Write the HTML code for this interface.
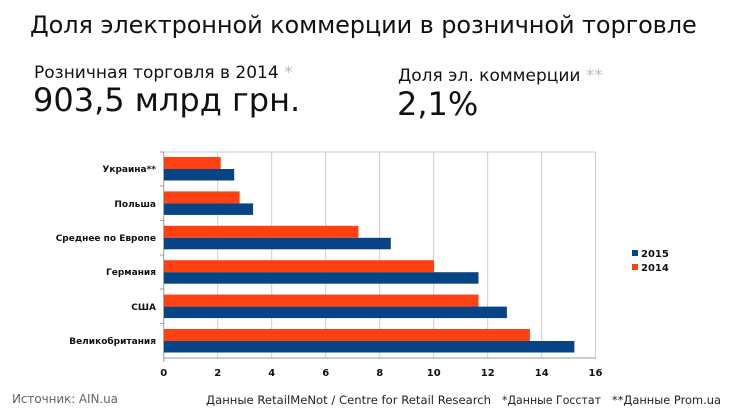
<!DOCTYPE html>
<html><head><meta charset="utf-8"><style>
body{margin:0;width:730px;height:411px;background:#fff;overflow:hidden;font-family:"DejaVu Sans","Liberation Sans",sans-serif;}
.t{position:absolute;white-space:nowrap;color:#111;}
</style></head><body>
<div class="t" style="left:30px;top:11px;font-size:24px;letter-spacing:-0.1px;">Доля электронной коммерции в розничной торговле</div>
<div class="t" style="left:34px;top:63px;font-size:17px;">Розничная торговля в 2014 <span style="color:#bbb">*</span></div>
<div class="t" style="left:33px;top:81px;font-size:32px;">903,5 млрд грн.</div>
<div class="t" style="left:398px;top:66px;font-size:17px;">Доля эл. коммерции <span style="color:#bbb">**</span></div>
<div class="t" style="left:397px;top:85px;font-size:32px;">2,1%</div>
<svg width="730" height="411" style="position:absolute;left:0;top:0" font-family="DejaVu Sans, Liberation Sans, sans-serif">
<g stroke="#ccc" stroke-width="1">
<line x1="217.7" y1="152" x2="217.7" y2="358"/><line x1="271.7" y1="152" x2="271.7" y2="358"/>
<line x1="325.7" y1="152" x2="325.7" y2="358"/><line x1="379.7" y1="152" x2="379.7" y2="358"/>
<line x1="433.7" y1="152" x2="433.7" y2="358"/><line x1="487.7" y1="152" x2="487.7" y2="358"/>
<line x1="541.7" y1="152" x2="541.7" y2="358"/><line x1="595.5" y1="152" x2="595.5" y2="358"/>
<line x1="163.7" y1="152" x2="595.5" y2="152"/>
</g>
<g stroke="#999" stroke-width="1">
<line x1="163.7" y1="152" x2="163.7" y2="362"/><line x1="163.7" y1="358" x2="595.5" y2="358"/>
<line x1="160" y1="152" x2="164" y2="152"/><line x1="160" y1="186" x2="164" y2="186"/><line x1="160" y1="220.5" x2="164" y2="220.5"/><line x1="160" y1="255" x2="164" y2="255"/><line x1="160" y1="289" x2="164" y2="289"/><line x1="160" y1="323.5" x2="164" y2="323.5"/>
</g>
<g>
<rect x="164" y="157" width="56.7" height="12" fill="#ff4010"/><rect x="164" y="169" width="70.2" height="11.5" fill="#064485"/>
<rect x="164" y="191.4" width="75.6" height="12" fill="#ff4010"/><rect x="164" y="203.4" width="89.1" height="11.5" fill="#064485"/>
<rect x="164" y="225.8" width="194.4" height="12" fill="#ff4010"/><rect x="164" y="237.8" width="226.8" height="11.5" fill="#064485"/>
<rect x="164" y="260.2" width="270" height="12" fill="#ff4010"/><rect x="164" y="272.2" width="314.5" height="11.5" fill="#064485"/>
<rect x="164" y="294.6" width="314.5" height="12" fill="#ff4010"/><rect x="164" y="306.6" width="342.9" height="11.5" fill="#064485"/>
<rect x="164" y="329" width="365.9" height="12" fill="#ff4010"/><rect x="164" y="341" width="410.4" height="11.5" fill="#064485"/>
</g>
<g font-size="9" font-weight="bold" text-anchor="end" fill="#111">
<text x="156" y="172">Украина**</text><text x="156" y="207">Польша</text><text x="156" y="241">Среднее по Европе</text>
<text x="156" y="275">Германия</text><text x="156" y="310">США</text><text x="156" y="344">Великобритания</text>
</g>
<g font-size="10" font-weight="bold" text-anchor="middle" fill="#111">
<text x="163.7" y="376">0</text><text x="217.7" y="376">2</text><text x="271.7" y="376">4</text><text x="325.7" y="376">6</text>
<text x="379.7" y="376">8</text><text x="433.7" y="376">10</text><text x="487.7" y="376">12</text><text x="541.7" y="376">14</text><text x="595.5" y="376">16</text>
</g>
<rect x="632" y="250" width="6" height="6" fill="#064485"/><rect x="632" y="264" width="6" height="6" fill="#ff4010"/>
<g font-size="10" font-weight="bold" fill="#111"><text x="641" y="257">2015</text><text x="641" y="271">2014</text></g>
<text x="12" y="403" font-size="12" fill="#666" textLength="106">Источник: AIN.ua</text>
<g font-size="11.5" fill="#222">
<text x="206" y="404" textLength="285" lengthAdjust="spacingAndGlyphs">Данные RetailMeNot / Centre for Retail Research</text>
<text x="502" y="404" textLength="99" lengthAdjust="spacingAndGlyphs">*Данные Госстат</text>
<text x="612" y="404" textLength="109" lengthAdjust="spacingAndGlyphs">**Данные Prom.ua</text>
</g>
</svg>
</body></html>
